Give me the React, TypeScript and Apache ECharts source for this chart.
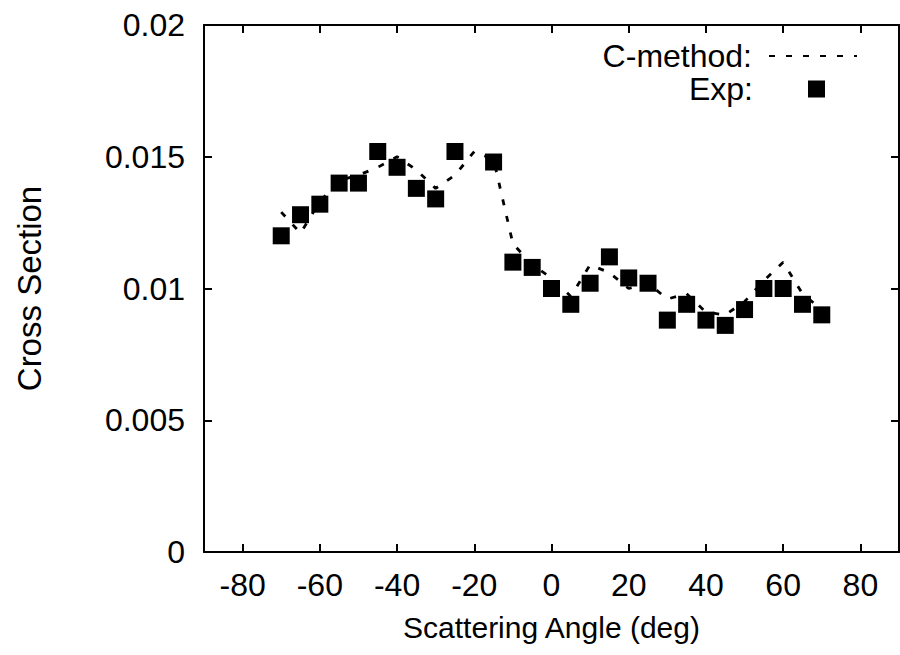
import React, { useEffect, useRef } from "react";
import * as echarts from "echarts";

const expAngles = [-70, -65, -60, -55, -50, -45, -40, -35, -30, -25, -15, -10, -5, 0, 5, 10, 15, 20, 25, 30, 35, 40, 45, 50, 55, 60, 65, 70];
const expValues = [0.0120, 0.0128, 0.0132, 0.0140, 0.0140, 0.0152, 0.0146, 0.0138, 0.0134, 0.0152, 0.0148, 0.0110, 0.0108, 0.0100, 0.0094, 0.0102, 0.0112, 0.0104, 0.0102, 0.0088, 0.0094, 0.0088, 0.0086, 0.0092, 0.0100, 0.0100, 0.0094, 0.0090];

const calcAngles = [-70, -65, -60, -55, -50, -45, -40, -35, -30, -25, -20, -15, -10, -5, 0, 5, 10, 15, 20, 25, 30, 35, 40, 45, 50, 55, 60, 65, 70];
const calcValues = [0.0129, 0.0121, 0.0133, 0.0141, 0.0143, 0.0146, 0.0150, 0.0145, 0.0138, 0.0143, 0.0152, 0.0149, 0.0117, 0.0109, 0.0104, 0.0097, 0.0109, 0.0106, 0.0100, 0.0102, 0.0096, 0.0098, 0.0091, 0.0090, 0.0095, 0.0103, 0.0110, 0.0098, 0.0092];

const xTicks = [-80, -60, -40, -20, 0, 20, 40, 60, 80];

const FONT = "Liberation Sans";

export default function App() {
  const ref = useRef<HTMLDivElement>(null);
  useEffect(() => {
    if (!ref.current) return;
    const chart = echarts.init(ref.current, null, { renderer: "svg" });
    const axisLine = { show: true, onZero: false, lineStyle: { color: "#000", width: 2 } };
    const tick = { show: true, inside: true, length: 8, lineStyle: { color: "#000", width: 2 } };
    const legendText = { fontFamily: FONT, fontSize: 32, color: "#000" };
    chart.setOption({
      animation: false,
      backgroundColor: "#fff",
      grid: { left: 204, right: 1, top: 25, bottom: 103, containLabel: false },
      legend: [
        {
          orient: "vertical",
          align: "right",
          right: 37,
          top: 35,
          itemWidth: 88,
          itemHeight: 17,
          selectedMode: false,
          itemStyle: { opacity: 0 },
          textStyle: { ...legendText, padding: [0, 12, 0, 0] },
          data: [{ name: "C-method:" }],
        },
        {
          orient: "vertical",
          align: "right",
          right: 70,
          top: 68,
          itemWidth: 17,
          itemHeight: 17,
          selectedMode: false,
          textStyle: { ...legendText, padding: [0, 50, 0, 0] },
          data: [{ name: "Exp:", icon: "rect" }],
        },
      ],
      xAxis: [
        {
          type: "value",
          min: -90,
          max: 90,
          position: "bottom",
          name: "Scattering Angle (deg)",
          nameLocation: "middle",
          nameGap: 60,
          nameTextStyle: { fontFamily: FONT, fontSize: 30, color: "#000" },
          axisLine,
          axisTick: { ...tick, customValues: xTicks },
          axisLabel: { customValues: xTicks, fontFamily: FONT, fontSize: 32, color: "#000", margin: 17 },
          splitLine: { show: false },
        },
        {
          type: "value",
          min: -90,
          max: 90,
          position: "top",
          axisLine,
          axisTick: { ...tick, customValues: xTicks },
          axisLabel: { show: false },
          splitLine: { show: false },
        },
      ],
      yAxis: [
        {
          type: "value",
          min: 0,
          max: 0.02,
          interval: 0.005,
          position: "left",
          name: "Cross Section",
          nameLocation: "middle",
          nameGap: 158,
          nameTextStyle: { fontFamily: FONT, fontSize: 33, color: "#000" },
          axisLine,
          axisTick: tick,
          axisLabel: { fontFamily: FONT, fontSize: 32, color: "#000", margin: 19 },
          splitLine: { show: false },
        },
        {
          type: "value",
          min: 0,
          max: 0.02,
          interval: 0.005,
          position: "right",
          axisLine,
          axisTick: tick,
          axisLabel: { show: false },
          splitLine: { show: false },
        },
      ],
      series: [
        {
          name: "C-method:",
          type: "line",
          data: calcAngles.map((a, i) => [a, calcValues[i]]),
          symbol: "none",
          showSymbol: false,
          lineStyle: { color: "#000", width: 2.8, type: [6, 11] },
          itemStyle: { color: "#000" },
          z: 2,
        },
        {
          name: "Exp:",
          type: "scatter",
          data: expAngles.map((a, i) => [a, expValues[i]]),
          symbol: "rect",
          symbolSize: 17,
          itemStyle: { color: "#000", opacity: 1 },
          z: 3,
        },
      ],
    });
    return () => chart.dispose();
  }, []);
  return <div ref={ref} style={{ position: "absolute", left: 0, top: 0, width: 900, height: 655 }} />;
}
